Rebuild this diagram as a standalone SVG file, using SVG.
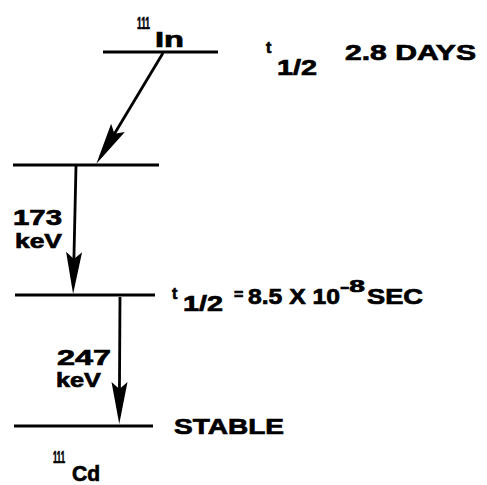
<svg xmlns="http://www.w3.org/2000/svg" width="487" height="485" viewBox="0 0 487 485">
<style>
.lvl{stroke:#000;stroke-width:3;fill:none}
.arr{stroke:#000;stroke-width:2.8;fill:none;marker-end:url(#ah)}
text{font-family:"Liberation Sans",Arial,sans-serif;font-weight:bold;fill:#000;stroke:#000;stroke-width:0.7}
.m{font-size:22px}
.k{font-size:21px}
.s{font-size:16px}
</style>
<defs>
<marker id="ah" markerUnits="userSpaceOnUse" markerWidth="46" markerHeight="20" viewBox="-44 -10 46 20" refX="-8" refY="0" orient="auto">
<path d="M0,0 L-42,-8 L-35,0 L-42,8 Z" fill="#000"/>
</marker>
</defs>
<rect width="487" height="485" fill="#fff"/>
<g id="level-in111">
<line class="lvl" x1="103" y1="52" x2="218" y2="52"/>
<text class="s" x="137" y="29" font-size="18px" textLength="13" lengthAdjust="spacingAndGlyphs">111</text>
<text class="m" x="155" y="47" textLength="29" lengthAdjust="spacingAndGlyphs">In</text>
<text class="s" x="266" y="53">t</text>
<text class="m" x="277" y="75" textLength="40" lengthAdjust="spacingAndGlyphs">1/2</text>
<text class="m" x="345" y="60" textLength="131" lengthAdjust="spacingAndGlyphs">2.8 DAYS</text>
</g>
<g id="level-2">
<line class="lvl" x1="13" y1="165" x2="159" y2="165"/>
</g>
<g id="level-3">
<line class="lvl" x1="15" y1="295" x2="155" y2="295"/>
<text class="s" x="172" y="299">t</text>
<text class="m" x="183" y="311" textLength="40" lengthAdjust="spacingAndGlyphs">1/2</text>
<text class="s" x="234" y="300">=</text>
<text class="m" x="248" y="304" textLength="92" lengthAdjust="spacingAndGlyphs">8.5 X 10</text>
<text class="s" x="340" y="292" font-size="18px" textLength="25" lengthAdjust="spacingAndGlyphs">-8</text>
<text class="m" x="367" y="304" textLength="56" lengthAdjust="spacingAndGlyphs">SEC</text>
</g>
<g id="level-cd111">
<line class="lvl" x1="14" y1="426" x2="153" y2="426"/>
<text class="m" x="174" y="434" textLength="110" lengthAdjust="spacingAndGlyphs">STABLE</text>
<text class="s" x="53" y="463" font-size="17px" textLength="12" lengthAdjust="spacingAndGlyphs">111</text>
<text class="m" x="72" y="481" textLength="28" lengthAdjust="spacingAndGlyphs">Cd</text>
</g>
<g id="connectors">
<line class="arr" x1="163" y1="53" x2="100.5" y2="157"/>
<line class="arr" x1="76" y1="166" x2="73.3" y2="286"/>
<line class="arr" x1="120" y1="297" x2="119.3" y2="416"/>
<text class="m" x="13" y="225" textLength="49" lengthAdjust="spacingAndGlyphs">173</text>
<text class="k" x="15" y="248" textLength="47" lengthAdjust="spacingAndGlyphs">keV</text>
<text class="m" x="57" y="365" textLength="54" lengthAdjust="spacingAndGlyphs">247</text>
<text class="k" x="56" y="387" textLength="45" lengthAdjust="spacingAndGlyphs">keV</text>
</g>
</svg>
